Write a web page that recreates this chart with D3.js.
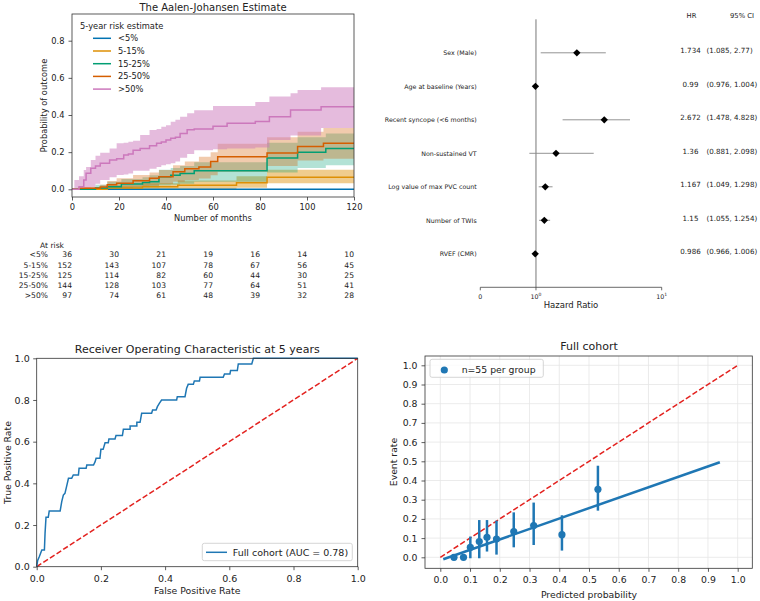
<!DOCTYPE html>
<html><head><meta charset="utf-8">
<script src="https://cdn.jsdelivr.net/npm/d3@7"></script>
<style>
body{margin:0;background:#fff}
text{font-family:"DejaVu Sans",sans-serif;fill:#222}
</style>
</head><body>
<svg id="c" width="760" height="601"></svg>
<script>
// ---------------- DATA ----------------
// Aalen-Johansen cumulative incidence by 5-year risk group
const kmGroups = ["<5%", "5-15%", "15-25%", "25-50%", ">50%"];
const kmColors = ["#0173b2", "#de8f05", "#029e73", "#d55e00", "#cc78bc"];
const kmBandAlpha = [0.3, 0.45, 0.3, 0.32, 0.5];

const g1Time = [0, 120];
const g1Est  = [0, 0];
const g1Lo   = [0, 0];
const g1Hi   = [0, 0];

const g2Time = [0, 15, 30, 45, 70, 83, 120];
const g2Est  = [0, .007, .014, .022, .035, .065, .065];
const g2Lo   = [0, 0, 0, 0, .008, .032, .032];
const g2Hi   = [0, .02, .032, .047, .07, .105, .105];

const g3Time = [0, 10, 15, 21, 30, 33, 37, 42, 46, 52, 83, 96, 108, 120];
const g3Est  = [0, .007, .014, .029, .036, .041, .068, .075, .085, .10, .168, .199, .22, .22];
const g3Lo   = [0, 0, 0, .004, .008, .01, .022, .025, .03, .04, .09, .115, .13, .13];
const g3Hi   = [0, .025, .04, .055, .065, .075, .105, .115, .125, .145, .25, .28, .30, .30];

const g4Time = [0, 3, 12, 15, 19, 26, 33, 37, 43, 48, 54, 59, 62, 83, 96, 107, 120];
const g4Est  = [0, .005, .012, .025, .032, .046, .06, .068, .095, .11, .12, .15, .175, .195, .23, .248, .248];
const g4Lo   = [0, 0, 0, .003, .006, .012, .02, .028, .04, .05, .058, .075, .095, .125, .155, .165, .165];
const g4Hi   = [0, .012, .025, .045, .06, .077, .09, .104, .13, .15, .175, .20, .245, .28, .31, .33, .33];

const g5Time = [0, 1, 3, 5, 6, 8, 10, 12, 16, 19, 22, 24, 26, 29, 33, 36, 38, 40, 42, 44, 46, 49, 52, 60, 66, 78, 84, 93, 96, 106, 120];
const g5Est  = [0, 0, .014, .05, .086, .113, .125, .14, .158, .165, .185, .19, .21, .22, .235, .248, .255, .265, .275, .28, .30, .32, .325, .34, .355, .365, .39, .427, .427, .445, .445];
const g5Lo   = [0, 0, 0, 0, .005, .01, .03, .05, .065, .077, .08, .085, .10, .10, .11, .12, .13, .135, .14, .15, .17, .19, .21, .215, .22, .225, .265, .29, .29, .33, .33];
const g5Hi   = [0, .05, .07, .104, .12, .158, .18, .197, .22, .248, .25, .256, .262, .292, .319, .325, .337, .345, .364, .375, .39, .41, .426, .448, .448, .47, .50, .517, .535, .55, .55];

const kmXTicks = [0, 20, 40, 60, 80, 100, 120];
const kmYTicks = [0, 0.2, 0.4, 0.6, 0.8];

// Number at risk
const riskTimes = [0, 20, 40, 60, 80, 100, 120];
const riskG1 = [36, 30, 21, 19, 16, 14, 10];
const riskG2 = [152, 143, 107, 78, 67, 56, 45];
const riskG3 = [125, 114, 82, 60, 44, 30, 25];
const riskG4 = [144, 128, 103, 77, 64, 51, 41];
const riskG5 = [97, 74, 61, 48, 39, 32, 28];

// Forest plot
const forestLabels = ["Sex (Male)", "Age at baseline (Years)", "Recent syncope (<6 months)", "Non-sustained VT", "Log value of max PVC count", "Number of TWIs", "RVEF (CMR)"];
const forestHR   = [1.734, 0.99, 2.672, 1.36, 1.167, 1.15, 0.986];
const forestCILo = [1.085, 0.976, 1.478, 0.881, 1.049, 1.055, 0.966];
const forestCIHi = [2.77, 1.004, 4.828, 2.098, 1.298, 1.254, 1.006];
const forestTicks = [0, 1, 10];
const forestTickBase = ["0", "10", "10"];
const forestTickSup  = ["", "0", "1"];

// ROC
const rocFPR = [0, 0.003, 0.008, 0.016, 0.024, 0.026, 0.029, 0.036, 0.039, 0.073, 0.078, 0.083, 0.088, 0.093, 0.099, 0.109, 0.114, 0.13, 0.132, 0.154, 0.156, 0.177, 0.182, 0.185, 0.197, 0.2, 0.207, 0.213, 0.223, 0.225, 0.244, 0.247, 0.267, 0.27, 0.291, 0.291, 0.312, 0.312, 0.322, 0.327, 0.358, 0.361, 0.372, 0.376, 0.382, 0.389, 0.436, 0.438, 0.462, 0.467, 0.472, 0.488, 0.491, 0.507, 0.509, 0.581, 0.585, 0.602, 0.604, 0.625, 0.628, 0.67, 0.675, 1.0];
const rocTPR = [0, 0.03, 0.048, 0.08, 0.08, 0.16, 0.237, 0.237, 0.267, 0.267, 0.312, 0.344, 0.352, 0.384, 0.424, 0.424, 0.44, 0.44, 0.472, 0.472, 0.488, 0.488, 0.504, 0.52, 0.52, 0.563, 0.563, 0.595, 0.595, 0.613, 0.613, 0.629, 0.629, 0.659, 0.659, 0.675, 0.675, 0.693, 0.693, 0.736, 0.736, 0.752, 0.752, 0.768, 0.784, 0.8, 0.8, 0.816, 0.816, 0.856, 0.875, 0.875, 0.891, 0.891, 0.909, 0.909, 0.925, 0.925, 0.941, 0.941, 0.973, 0.973, 1.0, 1.0];
const rocTicks = [0, 0.2, 0.4, 0.6, 0.8, 1.0];

// Calibration
const calPred  = [0.046, 0.078, 0.101, 0.131, 0.157, 0.189, 0.247, 0.314, 0.409, 0.53];
const calObs   = [0.0, 0.0, 0.052, 0.082, 0.104, 0.095, 0.134, 0.165, 0.118, 0.354];
const calErrLo = [0.0, 0.0, -0.005, -0.005, 0.03, 0.014, 0.052, 0.064, 0.035, 0.243];
const calErrHi = [0.0, 0.0, 0.108, 0.194, 0.194, 0.191, 0.234, 0.285, 0.219, 0.477];
const calFitX  = [0.01, 0.94];
const calFitY  = [-0.01, 0.495];
const calTicks = [0, 0.1, 0.2, 0.3, 0.4, 0.5, 0.6, 0.7, 0.8, 0.9, 1.0];

// ---------------- DRAW ----------------
const svg = d3.select("#c");
const AX = "#333";
const BLUE = "#1f77b4";
const RED = "#e3221f";

function spineBox(l, t, r, b) {
  svg.append("rect").attr("x", l).attr("y", t).attr("width", r - l).attr("height", b - t)
    .attr("fill", "none").attr("stroke", AX).attr("stroke-width", 0.8);
}
function styleAxis(g, fs) {
  g.select(".domain").remove();
  g.selectAll(".tick line").attr("stroke", AX).attr("stroke-width", 0.8);
  g.selectAll(".tick text").attr("font-size", fs).attr("fill", "#222")
    .attr("font-family", '"DejaVu Sans", sans-serif');
}
function yLabel(txt, x, y, fs) {
  svg.append("text").attr("transform", `translate(${x},${y}) rotate(-90)`)
    .attr("text-anchor", "middle").attr("dy", "0.35em").attr("font-size", fs).text(txt);
}

// ===== Panel 1: Aalen-Johansen =====
const kmX = d3.scaleLinear().domain([0, 120]).range([72, 354]);
const kmY = d3.scaleLinear().domain([0, 0.8]).range([189.3, 40.7]);
const kmL = 72, kmR = 354, kmT = 14, kmB = 197;
svg.append("clipPath").attr("id", "kmclip").append("rect")
  .attr("x", kmL).attr("y", kmT).attr("width", kmR - kmL).attr("height", kmB - kmT);

const groups = [
  [g1Time, g1Est, g1Lo, g1Hi], [g2Time, g2Est, g2Lo, g2Hi], [g3Time, g3Est, g3Lo, g3Hi],
  [g4Time, g4Est, g4Lo, g4Hi], [g5Time, g5Est, g5Lo, g5Hi]
].map(([t, e, lo, hi]) => t.map((v, i) => ({t: v, e: e[i], lo: lo[i], hi: hi[i]})));

const kmPlot = svg.append("g").attr("clip-path", "url(#kmclip)");
const band = d3.area().curve(d3.curveStepAfter).x(d => kmX(d.t)).y0(d => kmY(d.lo)).y1(d => kmY(d.hi));
const stepLine = d3.line().curve(d3.curveStepAfter).x(d => kmX(d.t)).y(d => kmY(d.e));
groups.forEach((g, i) => {
  kmPlot.append("path").attr("d", band(g)).attr("fill", kmColors[i]).attr("fill-opacity", kmBandAlpha[i]).attr("stroke", "none");
});
groups.forEach((g, i) => {
  kmPlot.append("path").attr("d", stepLine(g)).attr("fill", "none").attr("stroke", kmColors[i]).attr("stroke-width", 1.5);
});
spineBox(kmL, kmT, kmR, kmB);
styleAxis(svg.append("g").attr("transform", `translate(0,${kmB})`)
  .call(d3.axisBottom(kmX).tickValues(kmXTicks).tickSize(3.5).tickPadding(4).tickFormat(d3.format("d"))), 8.3);
styleAxis(svg.append("g").attr("transform", `translate(${kmL},0)`)
  .call(d3.axisLeft(kmY).tickValues(kmYTicks).tickSize(3.5).tickPadding(4).tickFormat(d3.format(".1f"))), 8.3);
svg.append("text").attr("x", 213).attr("y", 10.5).attr("text-anchor", "middle").attr("font-size", 10).text("The Aalen-Johansen Estimate");
svg.append("text").attr("x", 213).attr("y", 221).attr("text-anchor", "middle").attr("font-size", 8.3).text("Number of months");
yLabel("Probability of outcome", 44, 105.5, 8.3);

// legend
svg.append("text").attr("x", 80).attr("y", 28.6).attr("font-size", 8.3).text("5-year risk estimate");
kmGroups.forEach((name, i) => {
  const cy = 38.3 + i * 12.7;
  svg.append("line").attr("x1", 93).attr("x2", 111).attr("y1", cy).attr("y2", cy)
    .attr("stroke", kmColors[i]).attr("stroke-width", 1.5);
  svg.append("text").attr("x", 118).attr("y", cy + 2.9).attr("font-size", 8.3).text(name);
});

// at-risk table
const riskRows = [riskG1, riskG2, riskG3, riskG4, riskG5];
svg.append("text").attr("x", 64).attr("y", 247.5).attr("text-anchor", "end").attr("font-size", 7.6).text("At risk");
riskRows.forEach((row, i) => {
  const y = 257.3 + i * 10.2;
  svg.append("text").attr("x", 48).attr("y", y).attr("text-anchor", "end").attr("font-size", 7.6).text(kmGroups[i]);
  row.forEach((v, j) => {
    svg.append("text").attr("x", kmX(riskTimes[j])).attr("y", y).attr("text-anchor", "end").attr("font-size", 7.6).text(v);
  });
});

// ===== Panel 2: Forest plot =====
// matplotlib-style symlog transform (linthresh = 2, linscale = 1)
const LT = 2, LS = 1 / (1 - 1 / 10);
const symT = v => Math.abs(v) <= LT ? v * LS : Math.sign(v) * LT * (LS + Math.log10(Math.abs(v) / LT));
const fLin = d3.scaleLinear().domain([symT(0), symT(10)]).range([480.3, 661.7]);
const fx = v => fLin(symT(v));
const fy = d3.scaleLinear().domain([-1, 7]).range([19.3, 287.3]);

svg.append("line").attr("x1", fx(1)).attr("x2", fx(1)).attr("y1", fy(-1)).attr("y2", fy(7))
  .attr("stroke", "#777").attr("stroke-width", 1);
svg.append("line").attr("x1", fx(0)).attr("x2", fx(10)).attr("y1", fy(7)).attr("y2", fy(7))
  .attr("stroke", "#444").attr("stroke-width", 0.8);
forestTicks.forEach((t, i) => {
  const x = fx(t);
  svg.append("line").attr("x1", x).attr("x2", x).attr("y1", fy(7)).attr("y2", fy(7) + 3).attr("stroke", "#444").attr("stroke-width", 0.8);
  const tx = svg.append("text").attr("x", x).attr("y", 298.5).attr("text-anchor", "middle").attr("font-size", 6.3).attr("fill", "#333");
  tx.append("tspan").text(forestTickBase[i]);
  if (forestTickSup[i]) tx.append("tspan").attr("dy", -2.6).attr("font-size", 4.5).text(forestTickSup[i]);
});
svg.append("text").attr("x", 571).attr("y", 307.5).attr("text-anchor", "middle").attr("font-size", 8.5).text("Hazard Ratio");

svg.append("text").attr("x", 691.5).attr("y", 18).attr("text-anchor", "middle").attr("font-size", 6.8).attr("fill", "#333").text("HR");
svg.append("text").attr("x", 742).attr("y", 18).attr("text-anchor", "middle").attr("font-size", 6.8).attr("fill", "#333").text("95% CI");

const diamond = d3.symbol().type(d3.symbolSquare).size(27);
forestLabels.forEach((lab, i) => {
  const y = fy(i);
  svg.append("text").attr("x", 476.7).attr("y", y + 2.6).attr("text-anchor", "end").attr("font-size", 6.3).attr("fill", "#333").text(lab);
  svg.append("line").attr("x1", fx(forestCILo[i])).attr("x2", fx(forestCIHi[i])).attr("y1", y).attr("y2", y)
    .attr("stroke", "#888").attr("stroke-width", 0.9);
  svg.append("path").attr("d", diamond()).attr("transform", `translate(${fx(forestHR[i])},${y}) rotate(45)`).attr("fill", "#000");
  svg.append("text").attr("x", 690.5).attr("y", y + 0.3).attr("text-anchor", "middle").attr("font-size", 7.1).attr("fill", "#333").text(String(forestHR[i]));
  svg.append("text").attr("x", 706.5).attr("y", y + 0.3).attr("text-anchor", "start").attr("font-size", 7.1).attr("fill", "#333")
    .text(`(${forestCILo[i]}, ${forestCIHi[i]})`);
});

// ===== Panel 3: ROC =====
const rx = d3.scaleLinear().domain([0, 1]).range([36.7, 357.7]);
const ry = d3.scaleLinear().domain([0, 1]).range([566.7, 358.3]);
svg.append("line").attr("x1", rx(0)).attr("y1", ry(0)).attr("x2", rx(1)).attr("y2", ry(1))
  .attr("stroke", RED).attr("stroke-width", 1.5).attr("stroke-dasharray", "5.5,2.4");
svg.append("path").datum(rocFPR.map((f, i) => [f, rocTPR[i]]))
  .attr("d", d3.line().x(d => rx(d[0])).y(d => ry(d[1])))
  .attr("fill", "none").attr("stroke", BLUE).attr("stroke-width", 1.5);
spineBox(rx(0), ry(1), rx(1), ry(0));
styleAxis(svg.append("g").attr("transform", `translate(0,${ry(0)})`)
  .call(d3.axisBottom(rx).tickValues(rocTicks).tickSize(3.5).tickPadding(5.5).tickFormat(d3.format(".1f"))), 9.5);
styleAxis(svg.append("g").attr("transform", `translate(${rx(0)},0)`)
  .call(d3.axisLeft(ry).tickValues(rocTicks).tickSize(3.5).tickPadding(3.5).tickFormat(d3.format(".1f"))), 9.5);
svg.append("text").attr("x", 197.2).attr("y", 353.3).attr("text-anchor", "middle").attr("font-size", 11).text("Receiver Operating Characteristic at 5 years");
svg.append("text").attr("x", 197.2).attr("y", 594).attr("text-anchor", "middle").attr("font-size", 9.3).text("False Positive Rate");
yLabel("True Positive Rate", 7.5, 462.5, 9.3);
svg.append("rect").attr("x", 202.3).attr("y", 543.3).attr("width", 150).attr("height", 17.4).attr("rx", 2)
  .attr("fill", "#fff").attr("fill-opacity", 0.8).attr("stroke", "#ccc").attr("stroke-width", 0.8);
svg.append("line").attr("x1", 206).attr("x2", 227).attr("y1", 552.3).attr("y2", 552.3).attr("stroke", BLUE).attr("stroke-width", 1.5);
svg.append("text").attr("x", 232.7).attr("y", 555.6).attr("font-size", 9.5).text("Full cohort (AUC = 0.78)");

// ===== Panel 4: Calibration =====
const cx = d3.scaleLinear().domain([0, 1]).range([440.3, 737.7]);
const cy = d3.scaleLinear().domain([0, 1]).range([557.3, 365.3]);
const cL = 425, cR = 752.3, cT = 356, cB = 568.3;
calTicks.forEach(t => {
  svg.append("line").attr("x1", cx(t)).attr("x2", cx(t)).attr("y1", cT).attr("y2", cB).attr("stroke", "#e6e6e6").attr("stroke-width", 0.8);
  svg.append("line").attr("x1", cL).attr("x2", cR).attr("y1", cy(t)).attr("y2", cy(t)).attr("stroke", "#e6e6e6").attr("stroke-width", 0.8);
});
svg.append("line").attr("x1", cx(0)).attr("y1", cy(0)).attr("x2", cx(1)).attr("y2", cy(1))
  .attr("stroke", RED).attr("stroke-width", 1.5).attr("stroke-dasharray", "5.5,2.4");
svg.append("path").datum(calFitX.map((x, i) => [x, calFitY[i]]))
  .attr("d", d3.line().x(d => cx(d[0])).y(d => cy(d[1])))
  .attr("stroke", BLUE).attr("stroke-width", 2.5).attr("fill", "none");
calPred.forEach((p, i) => {
  svg.append("line").attr("x1", cx(p)).attr("x2", cx(p)).attr("y1", cy(calErrLo[i])).attr("y2", cy(calErrHi[i]))
    .attr("stroke", BLUE).attr("stroke-width", 2.5);
  svg.append("circle").attr("cx", cx(p)).attr("cy", cy(calObs[i])).attr("r", 3.6).attr("fill", BLUE);
});
spineBox(cL, cT, cR, cB);
styleAxis(svg.append("g").attr("transform", `translate(0,${cB})`)
  .call(d3.axisBottom(cx).tickValues(calTicks).tickSize(3.5).tickPadding(5).tickFormat(d3.format(".1f"))), 9.3);
styleAxis(svg.append("g").attr("transform", `translate(${cL},0)`)
  .call(d3.axisLeft(cy).tickValues(calTicks).tickSize(3.5).tickPadding(4).tickFormat(d3.format(".1f"))), 9.3);
svg.append("text").attr("x", 589).attr("y", 350).attr("text-anchor", "middle").attr("font-size", 11).text("Full cohort");
svg.append("text").attr("x", 589).attr("y", 597.5).attr("text-anchor", "middle").attr("font-size", 9.3).text("Predicted probability");
yLabel("Event rate", 393.5, 462, 9.3);
svg.append("rect").attr("x", 430).attr("y", 359.3).attr("width", 113.3).attr("height", 18).attr("rx", 2)
  .attr("fill", "#fff").attr("fill-opacity", 0.8).attr("stroke", "#ccc").attr("stroke-width", 0.8);
svg.append("circle").attr("cx", 444.3).attr("cy", 370).attr("r", 3.6).attr("fill", BLUE);
svg.append("text").attr("x", 461.7).attr("y", 373.3).attr("font-size", 9.3).text("n=55 per group");
</script>
</body></html>
